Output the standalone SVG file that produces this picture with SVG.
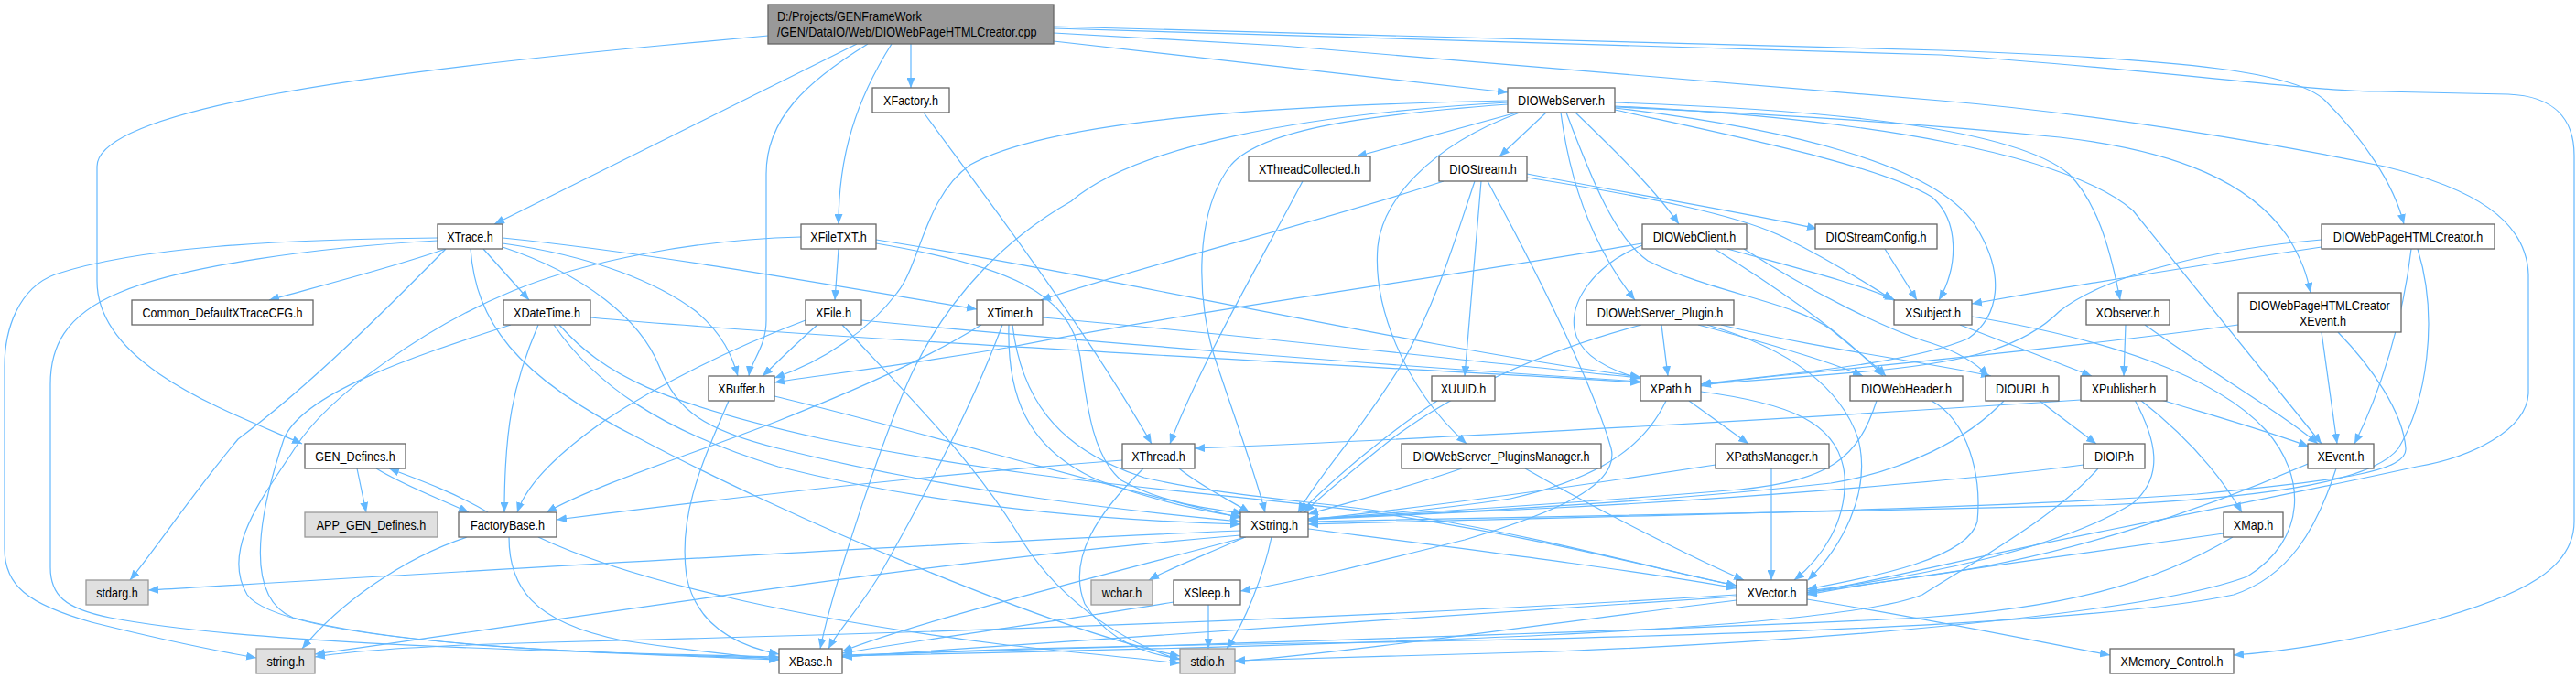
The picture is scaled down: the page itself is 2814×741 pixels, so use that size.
<svg xmlns="http://www.w3.org/2000/svg" width="2814" height="741" viewBox="0 0 2814 741">
<style>
.e{fill:none;stroke:#63b8ff;stroke-width:1.2;marker-end:url(#a)}
.n{fill:#ffffff;stroke:#666666;stroke-width:1.3}
.g{fill:#e0e0e0;stroke:#999999;stroke-width:1.3}
.r{fill:#999999;stroke:#666666;stroke-width:1.3}
text{font-family:"Liberation Sans",Arial,Helvetica,sans-serif;font-size:14px;fill:#000000;text-anchor:middle}
text.l{text-anchor:start}
</style>
<defs>
<marker id="a" markerUnits="userSpaceOnUse" markerWidth="11" markerHeight="9" viewBox="0 0 11 9" refX="11" refY="4.5" orient="auto">
<path d="M0,0 L11,4.5 L0,9 z" fill="#63b8ff"/>
</marker>
</defs>
<rect width="2814" height="741" fill="#ffffff"/>
<g id="edges">
<path class="e" d="M839,39 L720,50 C400,80 106,120 106,182 L106,307 C106,400 250,450 330,485"/>
<path class="e" d="M936,48 L540,245"/>
<path class="e" d="M948,48 C880,90 837,130 837,190 L837,350 C837,380 820,395 818,411"/>
<path class="e" d="M974,48 C935,110 916,170 916,245"/>
<path class="e" d="M995,48 L995,96"/>
<path class="e" d="M1151,45 L1647,101"/>
<path class="e" d="M1151,29 L2120,55 C2400,65 2510,80 2540,110 C2580,150 2615,200 2626,245"/>
<path class="e" d="M1151,31 L2120,60 C2350,75 2520,100 2600,100 L2740,103 C2790,105 2812,130 2812,170 L2812,570 C2812,620 2760,650 2650,680 C2550,705 2480,713 2440,716"/>
<path class="e" d="M1151,36 L1400,50 C1700,75 2000,100 2120,110 C2300,125 2500,160 2605,182 C2700,205 2760,240 2762,300 L2762,430 C2760,470 2700,500 2640,510 C2550,530 2450,550 2300,580 C2150,610 2050,635 1974,648"/>
<path class="e" d="M1647,110 C1400,115 1150,130 1060,180 C1010,215 1005,290 980,320 C950,360 900,395 846,413"/>
<path class="e" d="M1647,112 C1420,125 1240,160 1170,220 C1100,260 1040,320 1000,400 C970,460 910,640 896,709"/>
<path class="e" d="M1657,123 L1482,171"/>
<path class="e" d="M1689,123 L1638,171"/>
<path class="e" d="M1660,123 C1560,160 1510,220 1505,270 C1500,330 1530,420 1602,485"/>
<path class="e" d="M1705,123 C1715,200 1740,270 1786,328"/>
<path class="e" d="M1711,123 C1740,200 1765,260 1800,285 C1870,320 1960,330 2000,360 C2030,385 2050,400 2060,411"/>
<path class="e" d="M1721,123 C1770,170 1810,210 1834,245"/>
<path class="e" d="M1647,114 C1500,125 1380,140 1345,180 C1305,230 1305,330 1330,400 C1350,460 1372,520 1382,560"/>
<path class="e" d="M1764,120 C1900,150 2050,180 2110,215 C2140,240 2140,290 2118,328"/>
<path class="e" d="M1764,118 C1950,140 2120,180 2160,250 C2190,300 2185,345 2150,370 C2080,400 1930,410 1858,420"/>
<path class="e" d="M1764,112 C2000,120 2200,140 2260,190 C2290,220 2305,270 2316,328"/>
<path class="e" d="M1764,116 C2050,130 2260,170 2330,230 L2536,485"/>
<path class="e" d="M1764,117 C1950,125 2100,135 2250,150 C2380,165 2460,200 2500,260 C2515,285 2520,300 2524,320"/>
<path class="e" d="M1577,198 C1450,240 1250,290 1137,328"/>
<path class="e" d="M1611,198 C1590,260 1570,330 1530,400 C1480,480 1440,520 1418,560"/>
<path class="e" d="M1618,198 L1600,411"/>
<path class="e" d="M1625,198 C1680,300 1740,420 1760,490 C1770,530 1700,560 1600,590 C1500,615 1420,635 1355,646"/>
<path class="e" d="M1668,190 C1800,215 1920,235 1985,250"/>
<path class="e" d="M1668,194 C1800,215 1900,235 1950,260 C2000,285 2040,310 2068,328"/>
<path class="e" d="M1423,198 C1380,280 1310,400 1278,485"/>
<path class="e" d="M1009,123 C1080,220 1180,350 1258,485"/>
<path class="e" d="M2059,272 L2094,328"/>
<path class="e" d="M1794,268 C1740,290 1715,330 1720,360 C1725,390 1760,405 1792,414"/>
<path class="e" d="M1794,266 C1600,300 1300,340 1100,380 C950,405 880,412 846,418"/>
<path class="e" d="M1873,272 C1950,320 2020,370 2057,411"/>
<path class="e" d="M1887,272 C1970,295 2030,310 2070,328"/>
<path class="e" d="M1905,272 C1980,320 2060,360 2110,375 C2140,385 2160,398 2172,411"/>
<path class="e" d="M2536,262 C2420,272 2300,300 2250,340 C2210,380 2150,395 2050,405 C1960,413 1900,417 1858,420"/>
<path class="e" d="M2536,270 C2400,290 2250,315 2154,332"/>
<path class="e" d="M2634,272 C2625,350 2600,430 2572,485"/>
<path class="e" d="M2641,272 C2665,350 2650,440 2620,490 C2590,530 2450,545 2300,552 C2000,560 1600,566 1429,570"/>
<path class="e" d="M2536,363 L2553,485"/>
<path class="e" d="M2445,355 C2300,375 2100,395 1950,410 C1900,415 1875,418 1858,422"/>
<path class="e" d="M2554,363 C2590,400 2625,450 2628,490 C2630,515 2560,525 2400,540 C2100,560 1700,565 1429,573"/>
<path class="e" d="M2141,355 L2285,411"/>
<path class="e" d="M2154,346 C2300,370 2420,410 2475,470 C2520,520 2520,590 2455,630 C2350,670 2000,700 1700,712 C1500,718 1400,720 1349,722"/>
<path class="e" d="M2361,437 C2420,455 2480,472 2522,488"/>
<path class="e" d="M2338,437 C2380,470 2420,510 2449,560"/>
<path class="e" d="M2332,437 C2355,480 2365,520 2330,550 C2250,600 2100,630 1974,646"/>
<path class="e" d="M2273,437 C2000,455 1600,478 1305,490"/>
<path class="e" d="M2322,355 L2320,411"/>
<path class="e" d="M2343,355 C2420,410 2490,450 2532,485"/>
<path class="e" d="M2521,507 C2400,560 2250,610 2100,630 C2040,638 2000,645 1974,650"/>
<path class="e" d="M2552,512 C2530,580 2500,630 2440,650 C2300,680 1900,695 1500,702 C1200,706 1000,712 920,718"/>
<path class="e" d="M2429,583 C2300,600 2100,630 1974,648"/>
<path class="e" d="M2439,587 C2350,640 2250,665 2100,675 C1800,690 1300,705 920,716"/>
<path class="e" d="M2276,508 C2150,525 1900,545 1700,555 C1550,562 1470,566 1429,568"/>
<path class="e" d="M2292,512 C2250,560 2180,600 2100,650 C2000,690 1500,705 920,717"/>
<path class="e" d="M2228,438 C2250,455 2270,470 2290,485"/>
<path class="e" d="M2189,438 C2150,480 2080,515 2000,528 C1800,550 1550,562 1429,567"/>
<path class="e" d="M2050,438 C2030,500 2000,525 1900,535 C1700,552 1500,563 1429,568"/>
<path class="e" d="M2110,438 C2150,460 2165,520 2160,570 C2150,610 2050,630 1974,644"/>
<path class="e" d="M1815,355 L1822,411"/>
<path class="e" d="M1855,355 C1930,375 2000,395 2035,411"/>
<path class="e" d="M1880,355 C1980,380 2100,395 2175,411"/>
<path class="e" d="M1793,355 C1700,380 1600,420 1520,480 C1470,520 1440,545 1425,560"/>
<path class="e" d="M1865,355 C1950,380 2010,420 2030,480 C2045,540 2010,600 1975,634"/>
<path class="e" d="M1845,438 L1910,485"/>
<path class="e" d="M1820,438 C1800,480 1760,520 1650,545 C1550,560 1470,565 1429,567"/>
<path class="e" d="M1858,428 C1950,440 2010,460 2015,520 C2018,570 1990,610 1960,634"/>
<path class="e" d="M1570,438 C1520,470 1460,520 1420,560"/>
<path class="e" d="M1597,512 C1530,535 1470,550 1429,562"/>
<path class="e" d="M1666,512 C1750,560 1850,610 1905,634"/>
<path class="e" d="M1935,512 L1935,634"/>
<path class="e" d="M1874,508 C1700,535 1550,555 1429,568"/>
<path class="e" d="M1288,512 C1310,530 1340,545 1365,560"/>
<path class="e" d="M1226,503 C1000,520 750,550 608,568"/>
<path class="e" d="M1249,512 C1200,560 1165,610 1185,660 C1210,700 1250,715 1289,720"/>
<path class="e" d="M1355,580 C1000,595 500,625 162,645"/>
<path class="e" d="M1360,587 C1320,605 1280,620 1255,634"/>
<path class="e" d="M1389,587 C1380,630 1360,680 1340,709"/>
<path class="e" d="M1361,587 C1200,630 1000,680 920,712"/>
<path class="e" d="M1355,585 C1000,615 700,665 344,715"/>
<path class="e" d="M1429,578 C1600,600 1800,625 1897,643"/>
<path class="e" d="M1320,661 L1320,709"/>
<path class="e" d="M1282,658 C1150,680 1000,700 920,714"/>
<path class="e" d="M1974,655 C2100,675 2220,700 2305,716"/>
<path class="e" d="M1897,652 C1600,670 1200,700 920,718"/>
<path class="e" d="M1897,656 C1700,680 1500,710 1349,723"/>
<path class="e" d="M1897,650 C1500,675 1000,692 600,702 C450,706 380,712 344,718"/>
<path class="e" d="M533,560 C500,540 460,525 425,512"/>
<path class="e" d="M510,587 C440,610 370,660 330,709"/>
<path class="e" d="M556,587 C556,640 580,680 680,700 C760,712 810,717 851,721"/>
<path class="e" d="M588,587 C700,640 900,680 1100,705 C1200,716 1250,720 1289,725"/>
<path class="e" d="M390,512 L400,560"/>
<path class="e" d="M411,512 C440,530 480,545 512,560"/>
<path class="e" d="M487,272 C420,295 340,315 294,328"/>
<path class="e" d="M528,272 L578,328"/>
<path class="e" d="M487,272 C420,340 340,420 260,480 C210,540 170,600 142,634"/>
<path class="e" d="M478,260 C300,262 150,270 60,300 C20,315 5,360 5,400 L5,600 C5,640 30,660 100,680 C180,700 240,712 280,719"/>
<path class="e" d="M478,263 C350,270 200,290 130,320 C70,345 55,380 55,420 L55,620 C55,650 70,665 120,675 C250,700 500,710 851,718"/>
<path class="e" d="M549,260 C700,275 900,310 1067,338"/>
<path class="e" d="M549,266 C650,280 720,310 760,340 C790,365 800,390 806,411"/>
<path class="e" d="M549,270 C640,300 700,350 720,400 C740,450 770,470 850,490 C1050,540 1250,560 1355,570"/>
<path class="e" d="M514,272 C520,350 560,410 700,480 C850,560 1150,690 1289,717"/>
<path class="e" d="M588,355 C560,420 551,470 551,560"/>
<path class="e" d="M558,355 C450,390 330,430 310,480 C290,540 260,650 320,675 C450,710 700,715 851,721"/>
<path class="e" d="M875,259 C760,262 640,285 560,318 C470,355 360,430 322,490 C290,540 240,600 270,650 C300,690 500,712 851,719"/>
<path class="e" d="M605,355 C650,420 720,470 850,510 C1050,560 1250,570 1355,573"/>
<path class="e" d="M611,355 C660,410 720,440 900,480 C1150,530 1300,535 1500,560 C1700,590 1820,625 1897,640"/>
<path class="e" d="M645,347 C900,370 1400,395 1792,418"/>
<path class="e" d="M916,272 L912,328"/>
<path class="e" d="M957,262 C1200,300 1550,380 1792,412"/>
<path class="e" d="M957,266 C1100,290 1170,320 1180,390 C1188,450 1195,500 1225,525 C1270,550 1320,556 1358,561"/>
<path class="e" d="M893,355 C870,375 850,395 833,411"/>
<path class="e" d="M880,350 C800,380 720,420 660,460 C610,495 575,530 565,560"/>
<path class="e" d="M920,355 C990,430 1060,500 1110,580 C1150,650 1220,700 1289,721"/>
<path class="e" d="M941,350 C1200,375 1550,402 1792,417"/>
<path class="e" d="M1139,347 C1400,370 1650,400 1792,413"/>
<path class="e" d="M1072,355 C1000,400 900,440 850,460 C760,495 650,530 597,560"/>
<path class="e" d="M1095,355 C1060,450 1000,560 960,630 C935,670 915,690 905,709"/>
<path class="e" d="M1102,355 C1100,430 1120,490 1200,525 C1270,550 1320,560 1356,565"/>
<path class="e" d="M1106,355 C1115,430 1150,490 1250,522 C1350,545 1450,548 1550,565 C1700,590 1820,625 1897,640"/>
<path class="e" d="M796,438 C770,500 740,560 750,630 C760,680 800,705 851,715"/>
<path class="e" d="M846,433 C1000,470 1200,530 1355,566"/>
</g>
<g id="node-root"><rect class="r" x="839" y="5" width="312" height="43"/><text class="l" transform="translate(849,23) scale(0.9,1)">D:/Projects/GENFrameWork</text><text class="l" transform="translate(849,40) scale(0.9,1)">/GEN/DataIO/Web/DIOWebPageHTMLCreator.cpp</text></g>
<g id="node-XFactory"><rect class="n" x="953" y="96" width="84" height="27"/><text transform="translate(995,115) scale(0.9,1)">XFactory.h</text></g>
<g id="node-DIOWebServer"><rect class="n" x="1647" y="96" width="117" height="27"/><text transform="translate(1705.5,115) scale(0.9,1)">DIOWebServer.h</text></g>
<g id="node-XThreadCollected"><rect class="n" x="1364" y="171" width="133" height="27"/><text transform="translate(1430.5,190) scale(0.9,1)">XThreadCollected.h</text></g>
<g id="node-DIOStream"><rect class="n" x="1572" y="171" width="96" height="27"/><text transform="translate(1620,190) scale(0.9,1)">DIOStream.h</text></g>
<g id="node-XTrace"><rect class="n" x="478" y="245" width="71" height="27"/><text transform="translate(513.5,264) scale(0.9,1)">XTrace.h</text></g>
<g id="node-XFileTXT"><rect class="n" x="875" y="245" width="82" height="27"/><text transform="translate(916,264) scale(0.9,1)">XFileTXT.h</text></g>
<g id="node-DIOWebClient"><rect class="n" x="1794" y="245" width="114" height="27"/><text transform="translate(1851,264) scale(0.9,1)">DIOWebClient.h</text></g>
<g id="node-DIOStreamConfig"><rect class="n" x="1983" y="245" width="133" height="27"/><text transform="translate(2049.5,264) scale(0.9,1)">DIOStreamConfig.h</text></g>
<g id="node-DIOWebPageHTMLCreator"><rect class="n" x="2536" y="245" width="189" height="27"/><text transform="translate(2630.5,264) scale(0.9,1)">DIOWebPageHTMLCreator.h</text></g>
<g id="node-Common_DefaultXTraceCFG"><rect class="n" x="144" y="328" width="198" height="27"/><text transform="translate(243,347) scale(0.9,1)">Common_DefaultXTraceCFG.h</text></g>
<g id="node-XDateTime"><rect class="n" x="550" y="328" width="95" height="27"/><text transform="translate(597.5,347) scale(0.9,1)">XDateTime.h</text></g>
<g id="node-XFile"><rect class="n" x="880" y="328" width="61" height="27"/><text transform="translate(910.5,347) scale(0.9,1)">XFile.h</text></g>
<g id="node-XTimer"><rect class="n" x="1067" y="328" width="72" height="27"/><text transform="translate(1103,347) scale(0.9,1)">XTimer.h</text></g>
<g id="node-DIOWebServer_Plugin"><rect class="n" x="1733" y="328" width="161" height="27"/><text transform="translate(1813.5,347) scale(0.9,1)">DIOWebServer_Plugin.h</text></g>
<g id="node-XSubject"><rect class="n" x="2069" y="328" width="85" height="27"/><text transform="translate(2111.5,347) scale(0.9,1)">XSubject.h</text></g>
<g id="node-XObserver"><rect class="n" x="2279" y="328" width="91" height="27"/><text transform="translate(2324.5,347) scale(0.9,1)">XObserver.h</text></g>
<g id="node-DIOWebPageHTMLCreator_XEvent"><rect class="n" x="2445" y="320" width="178" height="43"/><text transform="translate(2534,339) scale(0.9,1)">DIOWebPageHTMLCreator</text><text transform="translate(2534,356) scale(0.9,1)">_XEvent.h</text></g>
<g id="node-XBuffer"><rect class="n" x="774" y="411" width="72" height="27"/><text transform="translate(810,430) scale(0.9,1)">XBuffer.h</text></g>
<g id="node-XUUID"><rect class="n" x="1564" y="411" width="69" height="27"/><text transform="translate(1598.5,430) scale(0.9,1)">XUUID.h</text></g>
<g id="node-XPath"><rect class="n" x="1792" y="411" width="66" height="27"/><text transform="translate(1825,430) scale(0.9,1)">XPath.h</text></g>
<g id="node-DIOWebHeader"><rect class="n" x="2021" y="411" width="123" height="27"/><text transform="translate(2082.5,430) scale(0.9,1)">DIOWebHeader.h</text></g>
<g id="node-DIOURL"><rect class="n" x="2169" y="411" width="80" height="27"/><text transform="translate(2209,430) scale(0.9,1)">DIOURL.h</text></g>
<g id="node-XPublisher"><rect class="n" x="2273" y="411" width="94" height="27"/><text transform="translate(2320,430) scale(0.9,1)">XPublisher.h</text></g>
<g id="node-GEN_Defines"><rect class="n" x="333" y="485" width="110" height="27"/><text transform="translate(388,504) scale(0.9,1)">GEN_Defines.h</text></g>
<g id="node-XThread"><rect class="n" x="1226" y="485" width="79" height="27"/><text transform="translate(1265.5,504) scale(0.9,1)">XThread.h</text></g>
<g id="node-DIOWebServer_PluginsManager"><rect class="n" x="1531" y="485" width="218" height="27"/><text transform="translate(1640,504) scale(0.9,1)">DIOWebServer_PluginsManager.h</text></g>
<g id="node-XPathsManager"><rect class="n" x="1874" y="485" width="124" height="27"/><text transform="translate(1936,504) scale(0.9,1)">XPathsManager.h</text></g>
<g id="node-DIOIP"><rect class="n" x="2276" y="485" width="67" height="27"/><text transform="translate(2309.5,504) scale(0.9,1)">DIOIP.h</text></g>
<g id="node-XEvent"><rect class="n" x="2521" y="485" width="72" height="27"/><text transform="translate(2557,504) scale(0.9,1)">XEvent.h</text></g>
<g id="node-APP_GEN_Defines"><rect class="g" x="333" y="560" width="145" height="27"/><text transform="translate(405.5,579) scale(0.9,1)">APP_GEN_Defines.h</text></g>
<g id="node-FactoryBase"><rect class="n" x="501" y="560" width="107" height="27"/><text transform="translate(554.5,579) scale(0.9,1)">FactoryBase.h</text></g>
<g id="node-XString"><rect class="n" x="1355" y="560" width="74" height="27"/><text transform="translate(1392,579) scale(0.9,1)">XString.h</text></g>
<g id="node-XMap"><rect class="n" x="2429" y="560" width="65" height="27"/><text transform="translate(2461.5,579) scale(0.9,1)">XMap.h</text></g>
<g id="node-stdarg"><rect class="g" x="94" y="634" width="68" height="27"/><text transform="translate(128,653) scale(0.9,1)">stdarg.h</text></g>
<g id="node-wchar"><rect class="g" x="1192" y="634" width="67" height="27"/><text transform="translate(1225.5,653) scale(0.9,1)">wchar.h</text></g>
<g id="node-XSleep"><rect class="n" x="1282" y="634" width="73" height="27"/><text transform="translate(1318.5,653) scale(0.9,1)">XSleep.h</text></g>
<g id="node-XVector"><rect class="n" x="1897" y="634" width="77" height="27"/><text transform="translate(1935.5,653) scale(0.9,1)">XVector.h</text></g>
<g id="node-string"><rect class="g" x="280" y="709" width="64" height="27"/><text transform="translate(312,728) scale(0.9,1)">string.h</text></g>
<g id="node-XBase"><rect class="n" x="851" y="709" width="69" height="27"/><text transform="translate(885.5,728) scale(0.9,1)">XBase.h</text></g>
<g id="node-stdio"><rect class="g" x="1289" y="709" width="60" height="27"/><text transform="translate(1319,728) scale(0.9,1)">stdio.h</text></g>
<g id="node-XMemory_Control"><rect class="n" x="2305" y="709" width="135" height="27"/><text transform="translate(2372.5,728) scale(0.9,1)">XMemory_Control.h</text></g>
</svg>
